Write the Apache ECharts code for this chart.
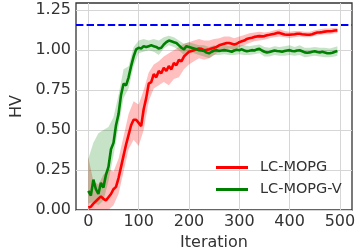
<!DOCTYPE html>
<html>
<head>
<meta charset="utf-8">
<script src="https://cdn.jsdelivr.net/npm/echarts@6/dist/echarts.min.js"></script>
<style>html,body{margin:0;padding:0;background:#fff;}#c{width:358px;height:251px;}</style>
</head>
<body>
<div id="c"></div>
<script>
// Iterations for the mean curves (step 5)
const iterations = [];
for (let i = 0; i <= 495; i += 5) iterations.push(i);
// Iterations for the shaded bands
const bandIterations = [0,10,20,30,40,50,60,70,80,90,100,110,120,130,140,150,160,170,180,190,200,210,220,230,240,250,260,270,280,290,300,310,320,330,340,350,360,370,380,390,400,410,420,430,440,450,460,470,480,490,495];

const lcMopg = [0.015,0.02,0.04,0.055,0.07,0.085,0.07,0.06,0.08,0.10,0.13,0.145,0.20,0.27,0.34,0.41,0.47,0.53,0.565,0.565,
0.545,0.525,0.63,0.70,0.79,0.80,0.85,0.83,0.87,0.855,0.89,0.87,0.90,0.88,0.92,0.905,0.94,0.93,0.96,0.975,
0.99,0.995,1.0,1.005,1.01,1.008,1.0,1.002,1.005,1.01,1.015,1.02,1.03,1.035,1.04,1.045,1.045,1.04,1.035,1.04,
1.05,1.055,1.06,1.07,1.075,1.078,1.083,1.086,1.088,1.086,1.088,1.093,1.096,1.1,1.103,1.108,1.108,1.103,1.098,1.096,
1.096,1.098,1.1,1.103,1.103,1.1,1.098,1.096,1.096,1.1,1.106,1.11,1.111,1.113,1.116,1.118,1.118,1.12,1.123,1.124];

const lcMopgV = [0.12,0.09,0.19,0.13,0.10,0.17,0.14,0.22,0.27,0.38,0.42,0.53,0.60,0.72,0.79,0.78,0.83,0.90,0.96,1.005,
1.015,1.01,1.025,1.02,1.025,1.03,1.025,1.02,1.01,1.015,1.035,1.05,1.06,1.055,1.05,1.045,1.03,1.015,1.005,1.025,
1.02,1.015,1.01,1.005,1.0,0.998,0.995,0.985,0.98,0.99,0.998,1.0,0.995,0.998,1.0,0.998,0.995,0.99,0.998,1.003,
1.0,1.005,0.998,0.993,0.996,1.0,0.998,1.005,1.008,0.998,0.99,0.985,0.988,0.993,0.998,0.995,0.993,0.99,0.995,0.998,
1.0,0.995,0.993,0.998,0.999,0.993,0.986,0.984,0.986,0.99,0.993,0.988,0.986,0.99,0.986,0.981,0.981,0.984,0.99,0.995];

const lcMopgLow = [0.0,0.0,0.0,0.0,0.0,0.03,0.10,0.24,0.38,0.44,0.40,0.50,0.68,0.76,0.78,0.80,0.78,0.82,0.83,0.88,
0.91,0.93,0.95,0.94,0.95,0.97,0.99,1.0,1.01,1.0,1.02,1.03,1.045,1.055,1.06,1.065,1.075,1.08,1.085,1.08,
1.075,1.08,1.085,1.08,1.08,1.09,1.095,1.1,1.1,1.105,1.105];
const lcMopgHigh = [0.33,0.18,0.16,0.22,0.26,0.24,0.32,0.46,0.60,0.68,0.66,0.75,0.86,0.91,0.93,0.96,0.98,1.0,1.02,1.04,
1.05,1.06,1.07,1.06,1.06,1.07,1.075,1.085,1.085,1.075,1.085,1.095,1.105,1.11,1.115,1.11,1.115,1.125,1.13,1.12,
1.115,1.12,1.12,1.115,1.115,1.125,1.13,1.135,1.135,1.14,1.14];

const lcMopgVLow = [0.04,0.05,0.03,0.06,0.18,0.34,0.52,0.70,0.76,0.90,0.98,0.99,1.0,0.99,0.97,1.01,1.03,1.02,1.0,0.97,
0.99,0.98,0.97,0.96,0.95,0.97,0.97,0.975,0.97,0.97,0.975,0.97,0.97,0.975,0.98,0.96,0.96,0.97,0.965,0.965,
0.97,0.965,0.97,0.955,0.96,0.965,0.96,0.955,0.955,0.96,0.965];
const lcMopgVHigh = [0.32,0.42,0.48,0.50,0.52,0.58,0.72,0.88,0.90,1.02,1.06,1.07,1.06,1.07,1.06,1.08,1.09,1.08,1.06,1.04,
1.05,1.04,1.03,1.03,1.02,1.03,1.025,1.03,1.025,1.03,1.03,1.03,1.025,1.03,1.035,1.02,1.015,1.025,1.02,1.025,
1.03,1.02,1.03,1.015,1.015,1.02,1.015,1.015,1.01,1.02,1.025];

const referenceHV = 1.159;
const xTicks = [0,100,200,300,400,500];
const yTicks = [0,0.25,0.5,0.75,1.0,1.25];

const pairs = (xs, ys) => xs.map((x, i) => [x, ys[i]]);
const bandData = (xs, lo, hi) => xs.map((x, i) => [x, lo[i], hi[i]]);

function bandSeries(name, xs, lo, hi, color, z) {
  return {
    name: name, type: 'custom', silent: true, z: z, clip: true,
    data: bandData(xs, lo, hi),
    encode: {x: 0, y: [1, 2]},
    renderItem: function (params, api) {
      if (params.dataIndex !== 0) return null;
      const top = xs.map((x, i) => api.coord([x, hi[i]]));
      const bottom = xs.map((x, i) => api.coord([x, lo[i]])).reverse();
      return {
        type: 'polygon',
        shape: {points: top.concat(bottom)},
        style: {fill: color, stroke: null}
      };
    }
  };
}

const font = 'DejaVu Sans';
const chart = echarts.init(document.getElementById('c'), null, {renderer: 'canvas'});
chart.setOption({
  animation: false,
  backgroundColor: '#fff',
  grid: {left: 76, right: 6, top: 3, bottom: 41, containLabel: false, outerBoundsMode: 'none',
    show: true, borderColor: '#333', borderWidth: 1.3, backgroundColor: 'transparent'},
  legend: {
    data: ['LC-MOPG', 'LC-MOPG-V'],
    orient: 'vertical', left: 211, top: 154, itemWidth: 32, itemHeight: 3, itemGap: 5,
    icon: 'rect',
    textStyle: {fontFamily: font, fontSize: 14.5, color: '#333', lineHeight: 17, padding: [0,0,0,7]}
  },
  xAxis: {
    type: 'value', min: -24.5, max: 524,
    name: 'Iteration', nameLocation: 'middle', nameGap: 22,
    nameTextStyle: {fontFamily: font, fontSize: 16, color: '#333'},
    axisLine: {show: false}, axisTick: {show: false, customValues: xTicks},
    axisLabel: {customValues: xTicks, fontFamily: font, fontSize: 16, color: '#333', margin: 4},
    splitLine: {show: true, lineStyle: {color: '#d6d6d6', width: 1}}
  },
  yAxis: {
    type: 'value', min: 0, max: 1.295,
    name: 'HV', nameLocation: 'middle', nameGap: 37, nameRotate: 90,
    nameTextStyle: {fontFamily: font, fontSize: 16, color: '#333'},
    axisLine: {show: false}, axisTick: {show: false, customValues: yTicks},
    axisLabel: {customValues: yTicks, fontFamily: font, fontSize: 16, color: '#333', margin: 5,
      formatter: v => v.toFixed(2)},
    splitLine: {show: true, lineStyle: {color: '#d6d6d6', width: 1}}
  },
  series: [
    bandSeries('redBand', bandIterations, lcMopgLow, lcMopgHigh, 'rgba(255,0,0,0.25)', 1),
    {name: 'LC-MOPG', type: 'line', data: pairs(iterations, lcMopg), symbol: 'none', showSymbol: false,
      itemStyle: {color: '#ff0000'}, lineStyle: {color: '#ff0000', width: 2.6}, z: 3,
      markLine: {silent: true, symbol: 'none', label: {show: false},
        lineStyle: {color: '#0000ff', width: 2, type: [7.4, 3.2]},
        data: [{yAxis: referenceHV}]}},
    bandSeries('greenBand', bandIterations, lcMopgVLow, lcMopgVHigh, 'rgba(0,128,0,0.22)', 2),
    {name: 'LC-MOPG-V', type: 'line', data: pairs(iterations, lcMopgV), symbol: 'none', showSymbol: false,
      itemStyle: {color: '#008000'}, lineStyle: {color: '#008000', width: 2.6}, z: 4}
  ]
});
</script>
</body>
</html>
